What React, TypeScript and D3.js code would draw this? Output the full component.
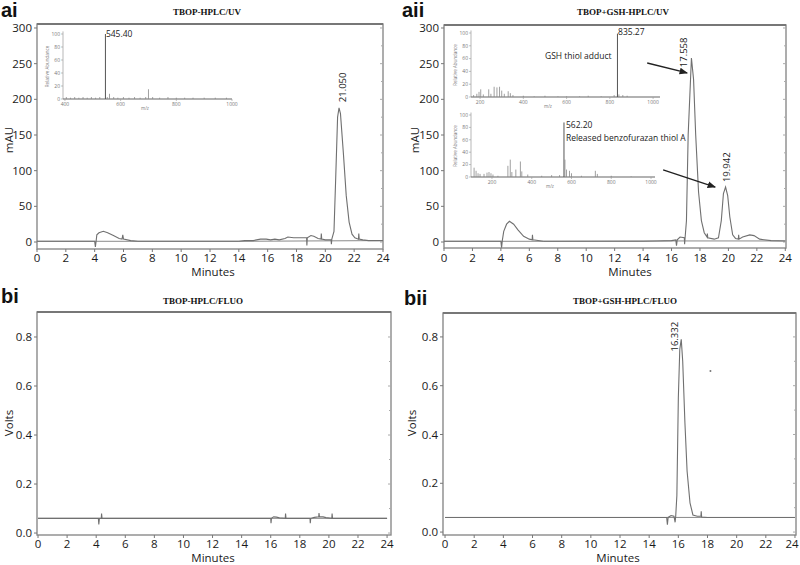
import React from "react";
import * as d3 from "d3";

type Pt = [number, number];

// ---------- tick labels ----------
const minuteTicks = [0, 2, 4, 6, 8, 10, 12, 14, 16, 18, 20, 22, 24];
const mauTicks = [0, 50, 100, 150, 200, 250, 300];
const mauMinor = [25, 75, 125, 175, 225, 275];
const voltTicks = [0.0, 0.2, 0.4, 0.6, 0.8];
const voltMinor = [0.1, 0.3, 0.5, 0.7];
const mzTicksAi = [400, 600, 800, 1000];
const mzTicksAii = [200, 400, 600, 800, 1000];
const abundTicks = [0, 20, 40, 60, 80, 100];

// ---------- chromatogram traces (minutes, signal) ----------
const aiTrace: Pt[] = [
  [0, 1], [3.9, 1], [4.0, 1], [4.05, -7], [4.1, 1], [4.15, 10], [4.3, 13], [4.6, 15], [4.9, 13],
  [5.3, 9], [5.7, 5], [5.9, 4], [5.95, 10], [6.0, 4], [6.5, 2], [7, 1], [10, 1], [14, 1],
  [14.4, 2], [15, 2], [15.5, 4], [15.9, 4], [16.2, 3], [16.5, 4], [16.8, 3], [17.2, 5],
  [17.4, 7], [17.8, 6], [18.3, 6], [18.7, 6], [18.72, -5], [18.75, 6], [19.0, 9], [19.2, 8],
  [19.5, 5], [19.7, 4], [19.72, 12], [19.75, 4], [20.0, 3], [20.4, 3], [20.42, -3], [20.45, 4],
  [20.6, 15], [20.72, 90], [20.85, 175], [20.95, 188], [21.05, 180], [21.25, 125], [21.45, 65],
  [21.65, 28], [21.85, 11], [22.05, 6], [22.3, 4], [22.32, 12], [22.35, 4], [22.6, 3], [23, 2], [24, 2],
];
const aiBase: Pt[] = [[0, 1], [4.0, 1], [7, 1], [14, 1], [24, 2]];

const aiiTrace: Pt[] = [
  [0, 1], [4.0, 1], [4.05, -8], [4.1, 2], [4.2, 15], [4.4, 25], [4.6, 29], [4.9, 25], [5.2, 17],
  [5.6, 8], [6.0, 4], [6.2, 3], [6.22, 10], [6.25, 3], [7, 1], [10, 1], [14, 1], [15, 1.5],
  [16, 2], [16.3, 3], [16.35, -5], [16.4, 3], [16.6, 7], [16.9, 6], [16.92, -3], [16.95, 5],
  [17.05, 30], [17.17, 150], [17.4, 258], [17.55, 228], [17.7, 150], [17.9, 70], [18.1, 30],
  [18.3, 13], [18.5, 7], [18.52, 12], [18.55, 6], [19.0, 4], [19.3, 6], [19.5, 30], [19.65, 68],
  [19.8, 77], [19.95, 65], [20.1, 35], [20.3, 10], [20.5, 5], [20.7, 4], [20.72, 10], [20.75, 4],
  [21.0, 7], [21.5, 10], [21.8, 9], [22.2, 4], [23, 2], [24, 1.5],
];
const aiiBase: Pt[] = [[0, 1], [4.0, 1], [7, 1], [16.3, 1.5], [24, 1.5]];

const biTrace: Pt[] = [
  [0, 0.06], [4.15, 0.06], [4.18, 0.035], [4.22, 0.06], [4.35, 0.06], [4.37, 0.08], [4.4, 0.06],
  [16.0, 0.06], [16.02, 0.04], [16.05, 0.06], [16.2, 0.066], [16.4, 0.065], [16.6, 0.062],
  [17.0, 0.06], [17.02, 0.08], [17.05, 0.06], [18.7, 0.06], [18.72, 0.04], [18.75, 0.06],
  [19.0, 0.064], [19.3, 0.066], [19.32, 0.082], [19.35, 0.066], [19.6, 0.066], [19.8, 0.063],
  [20.2, 0.06], [20.22, 0.08], [20.25, 0.06], [24, 0.06],
];
const biBase: Pt[] = [[0, 0.06], [24, 0.06]];

const biiTrace: Pt[] = [
  [0, 0.06], [15.2, 0.06], [15.25, 0.03], [15.3, 0.06], [15.5, 0.068], [15.7, 0.065], [15.78, 0.04],
  [15.82, 0.065], [15.9, 0.15], [16.0, 0.55], [16.1, 0.75], [16.2, 0.79], [16.3, 0.7], [16.45, 0.45],
  [16.6, 0.25], [16.8, 0.12], [17.0, 0.07], [17.3, 0.065], [17.55, 0.065], [17.57, 0.085],
  [17.6, 0.062], [18, 0.06], [24, 0.06],
];
const biiBase: Pt[] = [[0, 0.06], [24, 0.06]];
const biiDot: Pt[] = [[18.2, 0.66]];

// ---------- peak labels (text, minutes, signal at text start) ----------
const aiPeaks: [string, number, number][] = [["21.050", 21.2, 196]];
const aiiPeaks: [string, number, number][] = [["17.558", 16.88, 245], ["19.942", 19.85, 84]];
const biiPeaks: [string, number, number][] = [["16.332", 15.77, 0.74]];

// ---------- arrows in aii (from minutes, mAU -> to minutes, mAU) ----------
const aiiArrows: [Pt, Pt][] = [
  [[14.29, 251], [17.1, 237]],
  [[15.41, 101], [19.07, 77]],
];

// ---------- mass spectra insets (m/z, relative abundance) ----------
const aiSpectrum: Pt[] = [
  [405, 3], [420, 2], [435, 3], [450, 2], [465, 3], [480, 2], [495, 3], [510, 2], [525, 3],
  [545.4, 100], [552, 3], [560, 8], [575, 3], [590, 2], [610, 3], [630, 2], [650, 3], [670, 2],
  [690, 3], [700, 15], [715, 3], [740, 2], [770, 3], [800, 2], [830, 2], [860, 2], [900, 2],
  [940, 2], [980, 2],
];
const aiiTopSpectrum: Pt[] = [
  [170, 3], [185, 5], [195, 8], [203, 12], [215, 4], [240, 12], [250, 5], [265, 16], [278, 15],
  [290, 16], [300, 10], [312, 5], [330, 9], [340, 6], [352, 3], [400, 2], [450, 1], [500, 2],
  [560, 1], [600, 1], [660, 1], [700, 2], [760, 1], [820, 3], [835.27, 99], [842, 4], [860, 3],
  [880, 2],
];
const aiiBotSpectrum: Pt[] = [
  [110, 15], [120, 10], [130, 6], [140, 5], [160, 5], [175, 7], [185, 8], [195, 6], [205, 4],
  [230, 2], [280, 18], [292, 28], [300, 8], [320, 12], [343, 25], [350, 9], [380, 4], [450, 2],
  [500, 3], [540, 3], [562.2, 88], [567, 28], [575, 12], [590, 10], [600, 6], [650, 2],
  [720, 10], [730, 5], [800, 2], [900, 1],
];

const SANS = "'Open Sans', 'DejaVu Sans', sans-serif";
const SERIF = "'Liberation Serif', 'DejaVu Serif', serif";
const TRACE = "#707070";
const FRAME = "#8a8a8a";

type PanelProps = {
  left: number; right: number; top: number; bottom: number;
  xDomain: [number, number]; yDomain: [number, number];
  yTicks: number[]; yMinor: number[]; yFmt: (v: number) => string;
  tickY: number; minutesX: number; minutesY: number;
  title: string; titleX: number; titleY: number;
  tag: string; tagX: number; tagY: number;
  yLabel: string; yLabelX: number; yLabelY: number;
  trace: Pt[]; base: Pt[]; peaks: [string, number, number][];
  extra?: (x: d3.ScaleLinear<number, number>, y: d3.ScaleLinear<number, number>) => React.ReactNode;
};

function Panel(p: PanelProps) {
  const x = d3.scaleLinear().domain(p.xDomain).range([p.left, p.right]);
  const y = d3.scaleLinear().domain(p.yDomain).range([p.bottom, p.top]);
  const line = d3.line<Pt>().x((d) => x(d[0])).y((d) => y(d[1]));
  return (
    <g>
      <text x={p.tagX} y={p.tagY} fontFamily="'Liberation Sans', Arial, sans-serif" fontWeight="bold" fontSize={20} fill="#111">{p.tag}</text>
      <text x={p.titleX} y={p.titleY} textAnchor="middle" fontFamily={SERIF} fontWeight="bold" fontSize={9} fill="#111">{p.title}</text>
      <rect x={p.left} y={p.top} width={p.right - p.left} height={p.bottom - p.top} fill="none" stroke={FRAME} strokeWidth={1.4} />
      <line x1={p.left} x2={p.right} y1={p.top} y2={p.top} stroke="#777" strokeWidth={1.8} />
      {p.yTicks.map((v) => (
        <g key={"y" + v}>
          <line x1={p.left - 3} x2={p.left} y1={y(v)} y2={y(v)} stroke="#777" />
          <line x1={p.right - 3} x2={p.right} y1={y(v)} y2={y(v)} stroke="#aaa" />
          <text x={p.left - 5} y={y(v)} dy="0.35em" textAnchor="end" fontFamily={SANS} fontSize={11.5} fill="#1a1a1a">{p.yFmt(v)}</text>
        </g>
      ))}
      {p.yMinor.map((v) => (
        <line key={"ym" + v} x1={p.right - 2} x2={p.right} y1={y(v)} y2={y(v)} stroke="#aaa" />
      ))}
      {minuteTicks.map((v) => (
        <g key={"x" + v}>
          <line x1={x(v)} x2={x(v)} y1={p.bottom} y2={p.bottom + 3} stroke="#777" />
          <text x={Math.min(x(v), 792)} y={p.tickY} textAnchor="middle" fontFamily={SANS} fontSize={11.5} fill="#1a1a1a">{v}</text>
        </g>
      ))}
      <text x={p.minutesX} y={p.minutesY} textAnchor="middle" fontFamily={SANS} fontSize={11.5} fill="#1a1a1a">Minutes</text>
      <text transform={`translate(${p.yLabelX},${p.yLabelY}) rotate(-90)`} dy="0.35em" textAnchor="middle" fontFamily={SANS} fontSize={11.5} fill="#1a1a1a">{p.yLabel}</text>
      <path d={line(p.base) || ""} fill="none" stroke="#8a8a8a" strokeWidth={1} />
      <path d={line(p.trace) || ""} fill="none" stroke={TRACE} strokeWidth={1.1} />
      {p.peaks.map(([t, px, py]) => (
        <text key={t} transform={`translate(${x(px)},${y(py)}) rotate(-90)`} dy="0.35em" fontFamily={SANS} fontSize={9.5} fill="#222">{t}</text>
      ))}
      {p.extra && p.extra(x, y)}
    </g>
  );
}

type InsetProps = {
  left: number; right: number; zeroY: number; topY: number;
  mzDomain: [number, number]; mzTicks: number[]; data: Pt[];
  labelY: number; mzLabelX: number; mzLabelY: number; yLabX: number;
  notes?: [string, number, number][];
};

function Inset(p: InsetProps) {
  const x = d3.scaleLinear().domain(p.mzDomain).range([p.left, p.right]);
  const y = d3.scaleLinear().domain([0, 100]).range([p.zeroY, p.topY]);
  const fs = 5;
  return (
    <g>
      <line x1={p.left} x2={p.left} y1={y(104)} y2={p.zeroY} stroke="#999" strokeWidth={0.7} />
      <line x1={p.left} x2={p.right} y1={p.zeroY} y2={p.zeroY} stroke="#666" strokeWidth={1.2} />
      {abundTicks.map((v) => (
        <g key={v}>
          <line x1={p.left - 2} x2={p.left} y1={y(v)} y2={y(v)} stroke="#999" strokeWidth={0.6} />
          <text x={p.left - 3} y={y(v)} dy="0.35em" textAnchor="end" fontFamily={SANS} fontSize={fs} fill="#777">{v}</text>
        </g>
      ))}
      {p.mzTicks.map((v) => (
        <g key={"m" + v}>
          <line x1={x(v)} x2={x(v)} y1={p.zeroY} y2={p.zeroY + 2} stroke="#999" strokeWidth={0.6} />
          <text x={x(v)} y={p.labelY} textAnchor="middle" fontFamily={SANS} fontSize={fs} fill="#777">{v}</text>
        </g>
      ))}
      <text x={p.mzLabelX} y={p.mzLabelY} textAnchor="middle" fontFamily={SANS} fontSize={4.5} fill="#777">m/z</text>
      <text transform={`translate(${p.yLabX},${y(50)}) rotate(-90)`} textAnchor="middle" dy="0.35em" fontFamily={SANS} fontSize={4.5} fill="#777">Relative Abundance</text>
      {p.data.map(([m, v], i) => (
        <line key={i} x1={x(m)} x2={x(m)} y1={p.zeroY} y2={y(v)} stroke={v > 50 ? "#555" : "#888"} strokeWidth={v > 50 ? 1 : 0.8} />
      ))}
      {p.notes && p.notes.map(([t, m, v]) => (
        <text key={t} x={x(m)} y={y(v)} dy="0.35em" fontFamily={SANS} fontSize={8.5} fill="#222">{t}</text>
      ))}
    </g>
  );
}

export default function App() {
  return (
    <svg width={800} height={565} viewBox="0 0 800 565" style={{ position: "absolute", left: 0, top: 0, background: "#fff" }}>
      <defs>
        <marker id="arr" viewBox="0 0 10 10" refX={9} refY={5} markerWidth={6} markerHeight={6} orient="auto">
          <path d="M0,1 L10,5 L0,9 z" fill="#222" />
        </marker>
      </defs>
      <rect width={800} height={565} fill="#fff" />
      <Panel
        left={37} right={383} top={24} bottom={249}
        xDomain={[0, 24]} yDomain={[-9.8, 305.6]}
        yTicks={mauTicks} yMinor={mauMinor} yFmt={(v) => String(v)}
        tickY={262} minutesX={213} minutesY={276}
        title="TBOP-HPLC/UV" titleX={207} titleY={15}
        tag="ai" tagX={1} tagY={17}
        yLabel="mAU" yLabelX={9} yLabelY={140}
        trace={aiTrace} base={aiBase} peaks={aiPeaks}
        extra={() => (
          <Inset left={63} right={232} zeroY={99} topY={34} mzDomain={[393, 1000]} mzTicks={mzTicksAi}
            data={aiSpectrum} labelY={106} mzLabelX={145} mzLabelY={110} yLabX={47}
            notes={[["545.40", 547, 100]]} />
        )}
      />
      <Panel
        left={444} right={786} top={25} bottom={248}
        xDomain={[0, 24.05]} yDomain={[-8.4, 304.2]}
        yTicks={mauTicks} yMinor={mauMinor} yFmt={(v) => String(v)}
        tickY={262} minutesX={630} minutesY={276}
        title="TBOP+GSH-HPLC/UV" titleX={623} titleY={15}
        tag="aii" tagX={402} tagY={17}
        yLabel="mAU" yLabelX={415} yLabelY={140}
        trace={aiiTrace} base={aiiBase} peaks={aiiPeaks}
        extra={(x, y) => (
          <g>
            <Inset left={471} right={660} zeroY={97} topY={33} mzDomain={[158, 1032]} mzTicks={mzTicksAii}
              data={aiiTopSpectrum} labelY={104} mzLabelX={548} mzLabelY={108} yLabX={455}
              notes={[["835.27", 838, 102], ["GSH thiol adduct", 500, 64]]} />
            <Inset left={471} right={655} zeroY={177} topY={115} mzDomain={[94.5, 1020]} mzTicks={mzTicksAii}
              data={aiiBotSpectrum} labelY={184} mzLabelX={550} mzLabelY={188} yLabX={455}
              notes={[["562.20", 572, 84], ["Released benzofurazan thiol A", 572, 63]]} />
            {aiiArrows.map(([a, b], i) => (
              <line key={i} x1={x(a[0])} y1={y(a[1])} x2={x(b[0])} y2={y(b[1])} stroke="#222" strokeWidth={1.4} markerEnd="url(#arr)" />
            ))}
          </g>
        )}
      />
      <Panel
        left={37} right={391} top={312} bottom={535}
        xDomain={[-0.07, 24.27]} yDomain={[-0.008, 0.902]}
        yTicks={voltTicks} yMinor={voltMinor} yFmt={(v) => v.toFixed(1)}
        tickY={548} minutesX={213} minutesY={562}
        title="TBOP-HPLC/FLUO" titleX={203} titleY={304}
        tag="bi" tagX={1} tagY={303}
        yLabel="Volts" yLabelX={9} yLabelY={423}
        trace={biTrace} base={biBase} peaks={[]}
      />
      <Panel
        left={443} right={796} top={313} bottom={535}
        xDomain={[-0.14, 24.07]} yDomain={[-0.012, 0.898]}
        yTicks={voltTicks} yMinor={voltMinor} yFmt={(v) => v.toFixed(1)}
        tickY={548} minutesX={618} minutesY={562}
        title="TBOP+GSH-HPLC/FLUO" titleX={625} titleY={304}
        tag="bii" tagX={404} tagY={305}
        yLabel="Volts" yLabelX={412} yLabelY={423}
        trace={biiTrace} base={biiBase} peaks={biiPeaks}
        extra={(x, y) => (
          <g>
            {biiDot.map(([t, v], i) => (
              <circle key={i} cx={x(t)} cy={y(v)} r={1} fill="#777" />
            ))}
          </g>
        )}
      />
    </svg>
  );
}
